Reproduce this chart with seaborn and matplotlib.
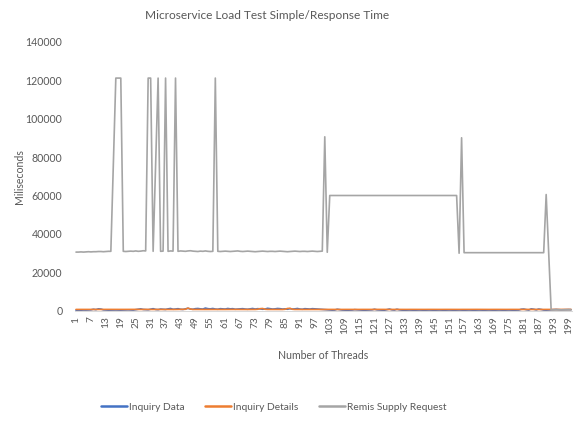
import pandas as pd
import matplotlib
matplotlib.use("Agg")
import matplotlib.pyplot as plt
import seaborn as sns

# -----------------------------
# Data
# -----------------------------

threads = list(range(1, 201))

inquiry_data = [
    400, 450, 420, 500, 480, 520, 600, 900, 700, 1100, 1000, 600, 500, 450, 480, 500, 520, 480, 460, 500,
    550, 600, 520, 480, 700, 900, 1100, 800, 700, 650, 900, 1200, 800, 700, 1000, 900, 800, 1100, 1300, 900,
    1000, 1200, 900, 800, 1100, 1400, 1000, 900, 1200, 1300, 1100, 1000, 1500, 1200, 1100, 1300, 1000, 900, 1200, 1100,
    1000, 1300, 1100, 1200, 900, 1000, 1100, 1200, 1000, 900, 1100, 1300, 1000, 1200, 1100, 900, 1000, 1400, 1200, 1000,
    1100, 1300, 1200, 1000, 1100, 900, 1200, 1000, 1100, 1300, 1000, 900, 1200, 1100, 1000, 1200, 1100, 1000, 900, 800,
    700, 600, 500, 450, 500, 900, 700, 500, 450, 400, 450, 500, 700, 600, 500, 450, 400, 450, 500, 600,
    900, 600, 500, 450, 400, 700, 1000, 600, 500, 900, 600, 450, 400, 450, 500, 450, 400, 450, 500, 450,
    400, 450, 500, 450, 400, 450, 500, 450, 400, 450, 500, 450, 400, 450, 500, 450, 400, 450, 500, 450,
    400, 450, 500, 450, 400, 450, 500, 450, 400, 450, 500, 450, 400, 450, 500, 450, 400, 450, 500, 900,
    1000, 700, 500, 1100, 900, 600, 1000, 800, 500, 450, 500, 600, 700, 800, 700, 600, 650, 700, 750, 700,
]

inquiry_details = [
    800, 820, 800, 810, 800, 820, 830, 800, 810, 820, 800, 810, 800, 820, 810, 800, 820, 810, 800, 810,
    820, 800, 810, 820, 830, 810, 800, 820, 810, 800, 830, 820, 810, 800, 820, 830, 810, 800, 820, 810,
    800, 820, 830, 810, 900, 1500, 1000, 820, 810, 800, 820, 830, 810, 800, 820, 810, 800, 820, 830, 810,
    800, 820, 810, 830, 820, 810, 800, 820, 810, 800, 830, 820, 810, 900, 1200, 1300, 900, 820, 810, 800,
    820, 830, 810, 800, 900, 1300, 1400, 900, 810, 800, 820, 830, 810, 800, 820, 810, 800, 820, 830, 810,
    800, 820, 810, 800, 820, 830, 810, 800, 820, 810, 800, 820, 830, 810, 800, 820, 810, 800, 820, 810,
    830, 820, 810, 800, 820, 810, 800, 820, 830, 810, 800, 820, 810, 800, 820, 810, 800, 820, 830, 810,
    800, 820, 810, 800, 820, 830, 810, 800, 820, 810, 800, 820, 830, 810, 800, 820, 810, 800, 820, 810,
    830, 820, 810, 800, 820, 810, 800, 820, 830, 810, 800, 820, 810, 800, 820, 810, 800, 820, 830, 810,
    800, 820, 810, 800, 820, 830, 810, 800, 820, 810, 800, 820, 830, 810, 800, 820, 810, 800, 820, 810,
]

remis_supply = [
    # 1-15
    30600, 30600, 30700, 30600, 30700, 30800, 30700, 30800, 30800, 30900, 30900, 30800, 30900, 31000, 31000,
    # 16-20
    76000, 121000, 121000, 121000, 31000,
    # 21-29
    30900, 31000, 31100, 31000, 31200, 31000, 31100, 31300, 31200,
    # 30-34
    121000, 121000, 31000, 76000, 121000,
    # 35-41
    31000, 31100, 121000, 31000, 31200, 31100, 121000,
    # 42-56
    31000, 31200, 31100, 31000, 31200, 31300, 31100, 31000, 30900, 31100, 31000, 31200, 31000, 30900, 31000,
    # 57
    121000,
    # 58-100
    31000, 30900, 31000, 31100, 31000, 30900, 31000, 31100, 31200, 31000,
    30900, 31000, 31100, 31000, 30900, 30800, 30900, 31000, 31100, 31000,
    30900, 31000, 31000, 30900, 31000, 31100, 31000, 30900, 30800, 30900,
    31000, 31100, 31000, 30900, 31000, 31000, 30900, 31000, 31100, 31000,
    30900, 31000, 31100,
    # 101-102
    90500, 30500,
    # 103-154
    60000, 60000, 60000, 60000, 60000, 60000, 60000, 60000, 60000, 60000,
    60000, 60000, 60000, 60000, 60000, 60000, 60000, 60000, 60000, 60000,
    60000, 60000, 60000, 60000, 60000, 60000, 60000, 60000, 60000, 60000,
    60000, 60000, 60000, 60000, 60000, 60000, 60000, 60000, 60000, 60000,
    60000, 60000, 60000, 60000, 60000, 60000, 60000, 60000, 60000, 60000,
    60000, 60000,
    # 155-156
    30000, 90000,
    # 157-189
    30300, 30300, 30300, 30300, 30300, 30300, 30300, 30300, 30300, 30300, 30300,
    30300, 30300, 30300, 30300, 30300, 30300, 30300, 30300, 30300, 30300, 30300,
    30300, 30300, 30300, 30300, 30300, 30300, 30300, 30300, 30300, 30300, 30300,
    # 190-191
    60500, 30500,
    # 192-200
    600, 600, 600, 600, 600, 600, 600, 600, 600,
]

series_names = ["Inquiry Data", "Inquiry Details", "Remis Supply Request"]
colors = ["#4472C4", "#ED7D31", "#A5A5A5"]
tick_labels = [str(t) for t in threads[::6]]

df = pd.concat([
    pd.DataFrame({"Thread": threads, "ms": inquiry_data, "Series": series_names[0]}),
    pd.DataFrame({"Thread": threads, "ms": inquiry_details, "Series": series_names[1]}),
    pd.DataFrame({"Thread": threads, "ms": remis_supply, "Series": series_names[2]}),
])

# -----------------------------
# Plot
# -----------------------------

sns.set_style("white")
plt.rcParams["font.family"] = ["Lato", "DejaVu Sans"]
text_color = "#595959"

fig = plt.figure(figsize=(5.86, 4.21), dpi=100)
ax = fig.add_axes([0.1276, 0.2613, 0.849, 0.6401])

sns.lineplot(data=df, x="Thread", y="ms", hue="Series",
             hue_order=series_names, palette=colors,
             linewidth=1.2, ax=ax)

ax.set_xlim(0.5, 200.5)
ax.set_ylim(0, 140000)
ax.set_yticks(range(0, 140001, 20000))
ax.set_xticks(threads[::6])
ax.set_xticklabels(tick_labels, rotation=90)
ax.set_xticks([t - 0.5 for t in threads] + [200.5], minor=True)

ax.tick_params(axis="x", which="major", length=0, pad=4,
               labelsize=7.3, labelcolor=text_color)
ax.tick_params(axis="x", which="minor", length=4, width=0.6,
               color="#D9D9D9", direction="out")
ax.tick_params(axis="y", length=0, pad=9, labelsize=7.6,
               labelcolor=text_color)

for side in ["top", "right", "left"]:
    ax.spines[side].set_visible(False)
ax.spines["bottom"].set_color("#D9D9D9")
ax.spines["bottom"].set_linewidth(0.75)
ax.grid(False)

ax.set_xlabel("Number of Threads", fontsize=7.6, color=text_color, labelpad=11)
ax.set_ylabel("Miliseconds", fontsize=7.6, color=text_color, labelpad=0.5)

fig.text(0.456, 0.964, "Microservice Load Test Simple/Response Time",
         ha="center", va="center", fontsize=8.6, color=text_color)

sns.move_legend(ax, "center", bbox_to_anchor=(0.467, 0.033),
                bbox_transform=fig.transFigure, ncol=3, frameon=False,
                title=None, fontsize=7.4, handlelength=2.5,
                handletextpad=0.2, columnspacing=2.0)
for line in ax.get_legend().get_lines():
    line.set_linewidth(1.8)
for txt in ax.get_legend().get_texts():
    txt.set_color(text_color)

fig.savefig("out.png", dpi=100)
